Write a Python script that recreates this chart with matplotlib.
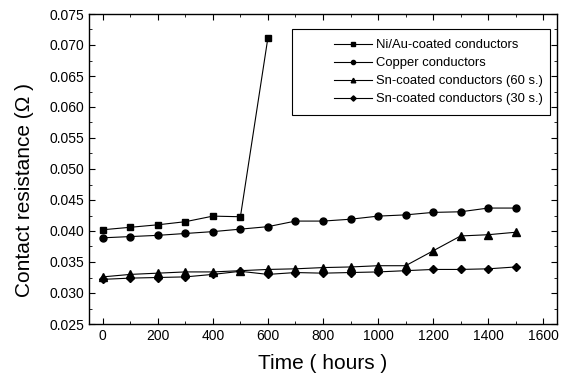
import matplotlib
matplotlib.use('Agg')
import matplotlib.pyplot as plt
from matplotlib.patches import Rectangle
from matplotlib.ticker import MultipleLocator

plt.rcParams['font.family'] = ['Liberation Sans', 'DejaVu Sans']

# data
hours = [0, 100, 200, 300, 400, 500, 600, 700, 800, 900, 1000, 1100, 1200, 1300, 1400, 1500]
niau_hours = [0, 100, 200, 300, 400, 500, 600]
niau = [0.0402, 0.0406, 0.0410, 0.0415, 0.0424, 0.0423, 0.0712]
copper = [0.0389, 0.0391, 0.0393, 0.0396, 0.0399, 0.0403, 0.0407, 0.0416,
          0.0416, 0.0419, 0.0424, 0.0426, 0.0430, 0.0431, 0.0437, 0.0437]
sn60 = [0.0326, 0.0330, 0.0332, 0.0334, 0.0334, 0.0336, 0.0338, 0.0339,
        0.0341, 0.0342, 0.0344, 0.0344, 0.0368, 0.0392, 0.0394, 0.0398]
sn30 = [0.0322, 0.0324, 0.0325, 0.0326, 0.0330, 0.0335, 0.0330, 0.0333,
        0.0332, 0.0333, 0.0334, 0.0336, 0.0338, 0.0338, 0.0339, 0.0342]

fig = plt.figure(figsize=(5.63, 3.79), dpi=100)
ax = fig.add_axes([89/563, 1 - 324/379, 468/563, 310/379])

lw = 0.8
ax.plot(niau_hours, niau, 'k-', marker='s', ms=5, lw=lw, label='Ni/Au-coated conductors')
ax.plot(hours, copper, 'k-', marker='o', ms=5, lw=lw, label='Copper conductors')
ax.plot(hours, sn60, 'k-', marker='^', ms=5.5, lw=lw, label='Sn-coated conductors (60 s.)')
ax.plot(hours, sn30, 'k-', marker='D', ms=4.5, lw=lw, label='Sn-coated conductors (30 s.)')

ax.set_xlim(-50, 1650)
ax.set_ylim(0.025, 0.075)
ax.xaxis.set_major_locator(MultipleLocator(200))
ax.xaxis.set_minor_locator(MultipleLocator(100))
ax.yaxis.set_major_locator(MultipleLocator(0.005))
ax.yaxis.set_minor_locator(MultipleLocator(0.0025))
ax.yaxis.set_major_formatter(plt.FormatStrFormatter('%.3f'))
ax.tick_params(which='both', direction='in', top=True, right=True, labelsize=10)
ax.tick_params(which='major', length=4)
ax.tick_params(which='minor', length=2.5)
for s in ax.spines.values():
    s.set_linewidth(1.0)

ax.set_xlabel('Time ( hours )', fontsize=15, labelpad=8)
ax.set_ylabel('Contact resistance (Ω )', fontsize=15)
ax.yaxis.set_label_coords(-0.118, 0.432)

ax.add_patch(Rectangle((0.434, 0.674), 0.551, 0.278, transform=ax.transAxes,
                       fill=False, ec='k', lw=0.8, zorder=5))
ax.legend(loc='upper right', bbox_to_anchor=(0.985, 0.942), frameon=False,
          fontsize=9.4, handlelength=2.9, markerscale=0.6, handletextpad=0.3,
          borderaxespad=0.15, labelspacing=0.45)

fig.savefig('out.png', dpi=100)
